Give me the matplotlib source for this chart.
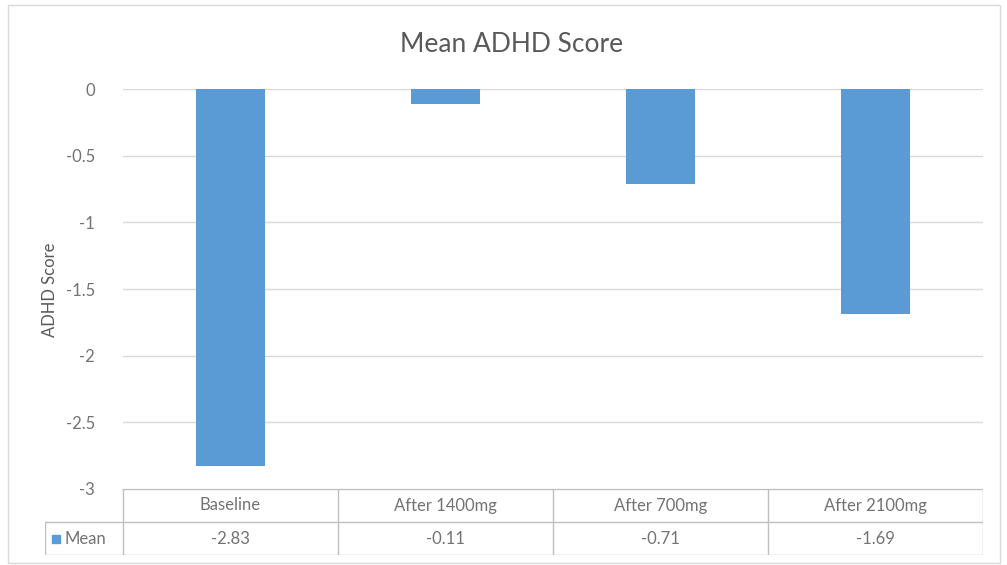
import matplotlib.pyplot as plt
from matplotlib.patches import Rectangle

categories = ["Baseline", "After 1400mg", "After 700mg", "After 2100mg"]
mean_values = [-2.83, -0.11, -0.71, -1.69]
value_labels = ["-2.83", "-0.11", "-0.71", "-1.69"]
y_ticks = [0, -0.5, -1, -1.5, -2, -2.5, -3]
y_tick_labels = ["0", "-0.5", "-1", "-1.5", "-2", "-2.5", "-3"]

BAR = "#5B9BD5"
GRID = "#D9D9D9"
TEXT = "#595959"
TICK = "#737373"
LINE = "#BFBFBF"

plt.rcParams['font.family'] = ['Lato', 'DejaVu Sans']

W, H = 1007, 565
fig = plt.figure(figsize=(W / 100, H / 100), dpi=100, facecolor="w")


def fx(px):
    return px / W


def fy(py):
    return 1 - py / H


# outer chart border
fig.patches.append(Rectangle((fx(8), fy(563)), fx(992), 558 / H, transform=fig.transFigure,
                             fill=False, edgecolor=GRID, linewidth=1.0))

# plot area
left, right, top, bottom = 123, 983, 89, 489
ax = fig.add_axes([fx(left), fy(bottom), fx(right - left), (bottom - top) / H])
x = range(len(categories))
ax.bar(x, mean_values, width=0.32, color=BAR, zorder=3)
ax.set_xlim(-0.5, len(categories) - 0.5)
ax.set_ylim(-3, 0)
ax.set_yticks(y_ticks)
ax.set_yticklabels(y_tick_labels)
ax.set_xticks([])
ax.yaxis.grid(True, color=GRID, linewidth=1.0, zorder=0)
ax.tick_params(axis="y", length=0, pad=20, labelsize=12, labelcolor=TICK)
for s in ax.spines.values():
    s.set_visible(False)
fig.text(fx(50), fy(290), "ADHD Score", rotation=90, ha="center", va="center",
         fontsize=12, color=TEXT)

fig.text(fx(512), fy(45), "Mean ADHD Score", ha="center", va="center", fontsize=19, color=TEXT)

# data table below the plot area
row_top, row_mid, row_bot = 489, 522, 555
legend_left = 45
col_w = (right - left) / len(categories)
row_h = row_bot - row_mid
tab = fig.add_axes([fx(legend_left), fy(row_bot), fx(right - legend_left), (row_bot - row_top) / H])
x0 = -0.5 - (left - legend_left) / col_w
tab.set_xlim(x0, len(categories) - 0.5)
tab.set_ylim(0, 2)
tab.axis("off")

kw = dict(color=LINE, linewidth=1.0)
tab.plot([-0.5, len(categories) - 0.5], [2, 2], **kw)
tab.plot([x0, len(categories) - 0.5], [1, 1], **kw)
tab.plot([x0, len(categories) - 0.5], [0, 0], **kw)
tab.plot([x0, x0], [0, 1], **kw)
for i in range(len(categories) + 1):
    tab.plot([i - 0.5, i - 0.5], [0, 2], **kw)
for i, (c, v) in enumerate(zip(categories, value_labels)):
    tab.text(i, 1.5, c, ha="center", va="center", fontsize=12, color=TICK)
    tab.text(i, 0.5, v, ha="center", va="center", fontsize=12, color=TICK)

# legend key and row label
tab.add_patch(Rectangle((x0 + 7 / col_w, 0.5 - 4 / row_h), 8 / col_w, 8 / row_h, color=BAR))
tab.text(x0 + 19 / col_w, 0.5, "Mean", ha="left", va="center", fontsize=12, color=TICK)

fig.savefig("out.png", dpi=100)
